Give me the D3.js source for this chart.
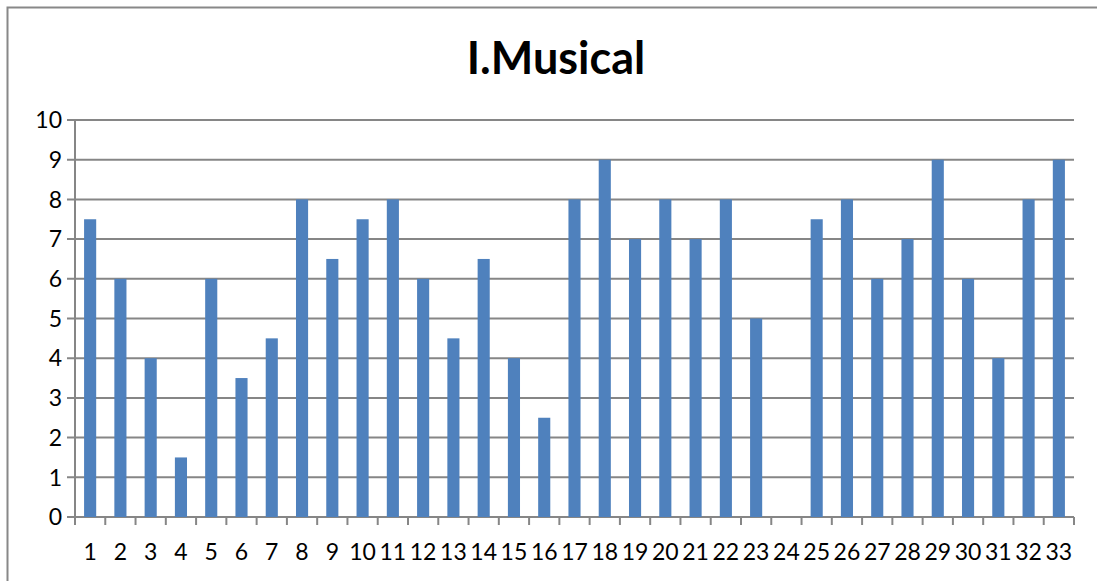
<!DOCTYPE html>
<html>
<head>
<meta charset="utf-8">
<script src="https://cdn.jsdelivr.net/npm/d3@7"></script>
<style>
  html, body { margin: 0; background: #fff; overflow: hidden; }
  svg { display: block; }
  text { font-family: Lato, "Open Sans", sans-serif; fill: #000; }
</style>
</head>
<body>
<div id="chart"></div>
<script>
const title = "I.Musical";
const categories = d3.range(1, 34).map(String);
const values = [7.5, 6, 4, 1.5, 6, 3.5, 4.5, 8, 6.5, 7.5, 8, 6, 4.5, 6.5, 4, 2.5, 8, 9, 7, 8, 7, 8, 5, 0, 7.5, 8, 6, 7, 9, 6, 4, 8, 9];
const yTicks = d3.range(0, 11);

const width = 1097, height = 581;
const plotLeft = 75, plotRight = 1074, plotTop = 120, plotBottom = 517;
const gridColor = "#868686";

const svg = d3.select("#chart").append("svg")
  .attr("width", width)
  .attr("height", height);

// outer chart border (runs off the right/bottom of the window)
svg.append("rect")
  .attr("x", 7.5).attr("y", 7.5)
  .attr("width", 1120).attr("height", 620)
  .attr("fill", "none")
  .attr("stroke", "#888")
  .attr("stroke-width", 2);

svg.append("text")
  .attr("x", 556).attr("y", 74)
  .attr("text-anchor", "middle")
  .style("font-size", "45px")
  .style("font-weight", "bold")
  .text(title);

const x = d3.scaleBand()
  .domain(categories)
  .range([plotLeft, plotRight])
  .paddingInner(0.6)
  .paddingOuter(0.3);

const y = d3.scaleLinear()
  .domain([0, 10])
  .range([plotBottom, plotTop]);

// gridlines + y ticks
svg.append("g")
  .selectAll("line")
  .data(yTicks)
  .join("line")
  .attr("x1", plotLeft - 8)
  .attr("x2", plotRight)
  .attr("y1", d => y(d))
  .attr("y2", d => y(d))
  .attr("stroke", gridColor)
  .attr("stroke-width", 2);

svg.append("g")
  .selectAll("text")
  .data(yTicks)
  .join("text")
  .attr("x", 62)
  .attr("y", d => y(d))
  .attr("dy", "0.36em")
  .attr("text-anchor", "end")
  .style("font-size", "23px")
  .text(d => d);

// bars
svg.append("g")
  .selectAll("rect")
  .data(values)
  .join("rect")
  .attr("x", (d, i) => x(categories[i]))
  .attr("y", d => y(d))
  .attr("width", x.bandwidth())
  .attr("height", d => y(0) - y(d))
  .attr("fill", "#4F81BD");

// y axis line
svg.append("line")
  .attr("x1", plotLeft).attr("x2", plotLeft)
  .attr("y1", plotTop).attr("y2", plotBottom + 8)
  .attr("stroke", gridColor)
  .attr("stroke-width", 2);

// x axis ticks between categories
const step = x.step();
svg.append("g")
  .selectAll("line")
  .data(d3.range(categories.length + 1))
  .join("line")
  .attr("x1", i => plotLeft + i * step)
  .attr("x2", i => plotLeft + i * step)
  .attr("y1", plotBottom)
  .attr("y2", plotBottom + 8)
  .attr("stroke", gridColor)
  .attr("stroke-width", 2);

svg.append("g")
  .selectAll("text")
  .data(categories)
  .join("text")
  .attr("x", d => x(d) + x.bandwidth() / 2)
  .attr("y", 552)
  .attr("dy", "0.36em")
  .attr("text-anchor", "middle")
  .style("font-size", "23px")
  .text(d => d);
</script>
</body>
</html>
